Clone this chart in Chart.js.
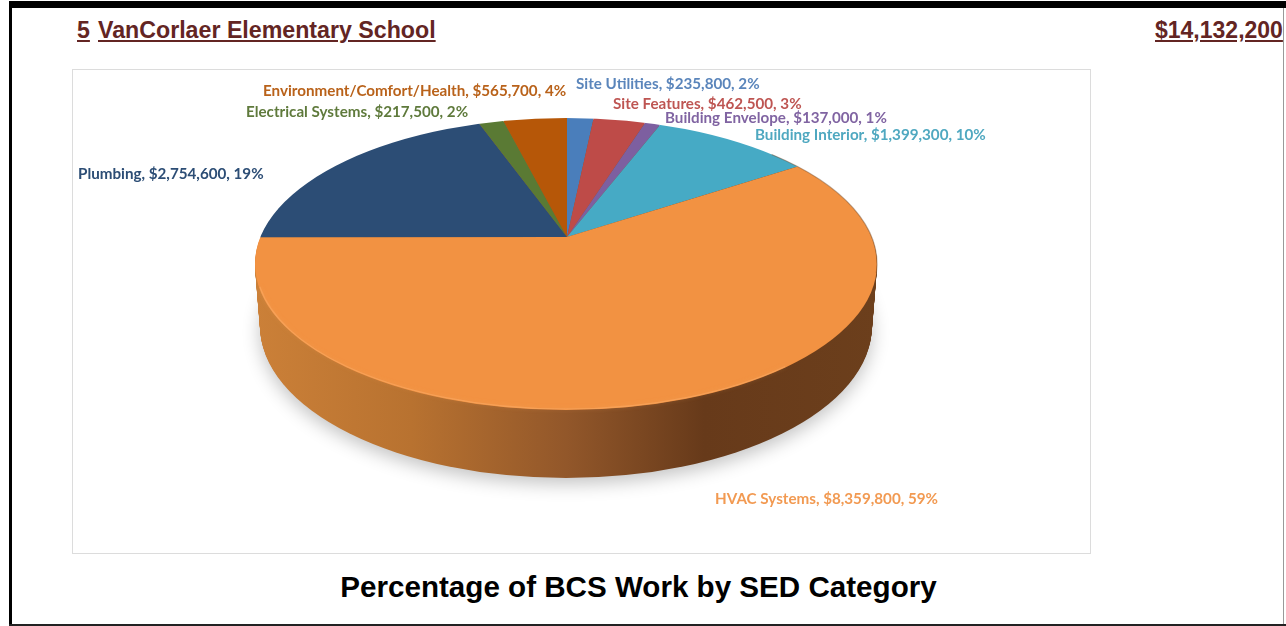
<!DOCTYPE html>
<html>
<head>
<meta charset="utf-8">
<title>Percentage of BCS Work by SED Category</title>
<script src="https://cdn.jsdelivr.net/npm/chart.js@4"></script>
<style>
  html, body { margin: 0; padding: 0; background: #fff; }
  body { position: relative; width: 1286px; height: 626px; overflow: hidden; font-family: "Liberation Sans", Arial, sans-serif; }
  .bar { position: absolute; background: #000; }
  .head { position: absolute; top: 17px; font-weight: bold; font-size: 23.2px; line-height: 26px; color: #632523; text-decoration: underline; white-space: nowrap; }
  #box { position: absolute; left: 72px; top: 69px; width: 1017px; height: 483px; border: 1px solid #dcdcdc; }
  #caption { position: absolute; left: 0; top: 570px; width: 1277px; text-align: center; font-weight: bold; font-size: 29.6px; line-height: 34px; color: #000; white-space: nowrap; }
  canvas { position: absolute; left: 0; top: 0; }
</style>
</head>
<body>
<div class="bar" style="left:9px;top:1px;width:1277px;height:7px"></div>
<div class="bar" style="left:9px;top:1px;width:3px;height:625px"></div>
<div class="bar" style="left:9px;top:624px;width:1277px;height:2px;background:#222"></div>
<div class="bar" style="left:1283px;top:8px;width:1px;height:616px;background:#999"></div>
<div class="head" style="left:77px">5</div>
<div class="head" style="left:98px">VanCorlaer Elementary School</div>
<div class="head" style="left:1155px;font-size:23px">$14,132,200</div>
<div id="box"></div>
<div id="caption">Percentage of BCS Work by SED Category</div>
<canvas id="pie" width="1286" height="626"></canvas>
<script>
// slices run clockwise from the top of the pie
const categories = ["Site Utilities", "Site Features", "Building Envelope", "Building Interior", "HVAC Systems", "Plumbing", "Electrical Systems", "Environment/Comfort/Health"];
const amounts = [235800, 462500, 137000, 1399300, 8359800, 2754600, 217500, 565700];
const percents = [2, 3, 1, 10, 59, 19, 2, 4];
const sliceColors = ["#4a7ebb", "#be4b48", "#7d5fa0", "#46aac5", "#f29242", "#2c4d75", "#5a7a34", "#b65708"];
const labelColors = ["#5a85bb", "#be5552", "#8064a2", "#4fa8c0", "#f29a52", "#2c4d75", "#5f7a3c", "#b9621a"];
// left edge and middle of each label
const labelX = [576, 613, 665, 755, 715, 78, 246, 263];
const labelY = [84, 104, 118, 135, 499, 174, 112, 91];

// pie tilt, in px around the apex of the slices
const topFace = { dy: 27, rx: 311, ry: 146 };
const bottomFace = { dy: 88, rx: 306, ry: 152 };
const stretchX = 420;
const stretchY = 197;

function apexOf(chart) {
  return chart.getDatasetMeta(0).data[0];
}

function ellipsePath(ctx, cx, cy, e) {
  ctx.beginPath();
  ctx.ellipse(cx - 1, cy + e.dy, e.rx, e.ry, 0, 0, Math.PI * 2);
}

const tiltPlugin = {
  id: "tilt",
  beforeDatasetDraw(chart) {
    const ctx = chart.ctx;
    const arc = apexOf(chart);
    const cx = arc.x, cy = arc.y;

    // soft shadow under the pie
    ctx.save();
    ctx.shadowColor = "rgba(0,0,0,0.24)";
    ctx.shadowBlur = 18;
    ctx.shadowOffsetY = 7;
    ctx.fillStyle = "#8e5424";
    ellipsePath(ctx, cx, cy, bottomFace);
    ctx.fill();
    ctx.restore();

    // side wall, stacked from the bottom face up to the top face
    const wall = ctx.createLinearGradient(cx - topFace.rx, 0, cx + topFace.rx, 0);
    wall.addColorStop(0, "#cb8038");
    wall.addColorStop(0.25, "#b87230");
    wall.addColorStop(0.5, "#92572a");
    wall.addColorStop(0.72, "#673a1a");
    wall.addColorStop(1, "#6c3f1c");
    ctx.fillStyle = wall;
    for (let i = 0; i <= 60; i++) {
      const t = i / 60;
      ellipsePath(ctx, cx, cy + 1, {
        dy: bottomFace.dy + (topFace.dy - bottomFace.dy) * t,
        rx: bottomFace.rx + (topFace.rx - bottomFace.rx) * t,
        ry: bottomFace.ry + (topFace.ry - bottomFace.ry) * t,
      });
      ctx.fill();
    }

    // the slices themselves: squash the circle, cut it to the top face
    ctx.save();
    ellipsePath(ctx, cx, cy, topFace);
    ctx.clip();
    ctx.translate(cx, cy);
    ctx.scale(stretchX / arc.outerRadius, stretchY / arc.outerRadius);
    ctx.translate(-cx, -cy);
  },
  afterDatasetDraw(chart) {
    const ctx = chart.ctx;
    ctx.restore();
    const arc = apexOf(chart);

    // light rim along the front edge
    ctx.save();
    ctx.lineWidth = 1.2;
    ctx.strokeStyle = "rgba(250,170,100,0.6)";
    ctx.shadowColor = "rgba(250,170,100,0.6)";
    ctx.shadowBlur = 4;
    ctx.beginPath();
    ctx.ellipse(arc.x - 1, arc.y + topFace.dy, topFace.rx - 1, topFace.ry - 1, 0, Math.PI * 0.25, Math.PI * 0.95);
    ctx.stroke();
    ctx.restore();

    // dark edge on the upper right
    ctx.save();
    ctx.lineWidth = 1.2;
    ctx.strokeStyle = "rgba(110,66,30,0.45)";
    ctx.beginPath();
    ctx.ellipse(arc.x - 1, arc.y + topFace.dy, topFace.rx, topFace.ry, 0, -Math.PI * 0.27, Math.PI * 0.02);
    ctx.stroke();
    ctx.restore();
  },
  afterDraw(chart) {
    const ctx = chart.ctx;
    ctx.save();
    ctx.font = 'bold 15.2px Lato, "Open Sans", sans-serif';
    ctx.textAlign = "left";
    ctx.textBaseline = "middle";
    categories.forEach((name, i) => {
      ctx.fillStyle = labelColors[i];
      ctx.fillText(name + ", $" + amounts[i].toLocaleString("en-US") + ", " + percents[i] + "%", labelX[i], labelY[i]);
    });
    ctx.restore();
  },
};

new Chart(document.getElementById("pie").getContext("2d"), {
  type: "pie",
  data: {
    labels: categories,
    datasets: [{ data: amounts, backgroundColor: sliceColors, borderWidth: 0, clip: false }],
  },
  options: {
    responsive: false,
    animation: false,
    // keeps the apex of the slices where the reference has it
    layout: { padding: { left: 0, top: 0, right: 152, bottom: 152 } },
    plugins: { legend: { display: false }, tooltip: { enabled: false } },
  },
  plugins: [tiltPlugin],
});
</script>
</body>
</html>
